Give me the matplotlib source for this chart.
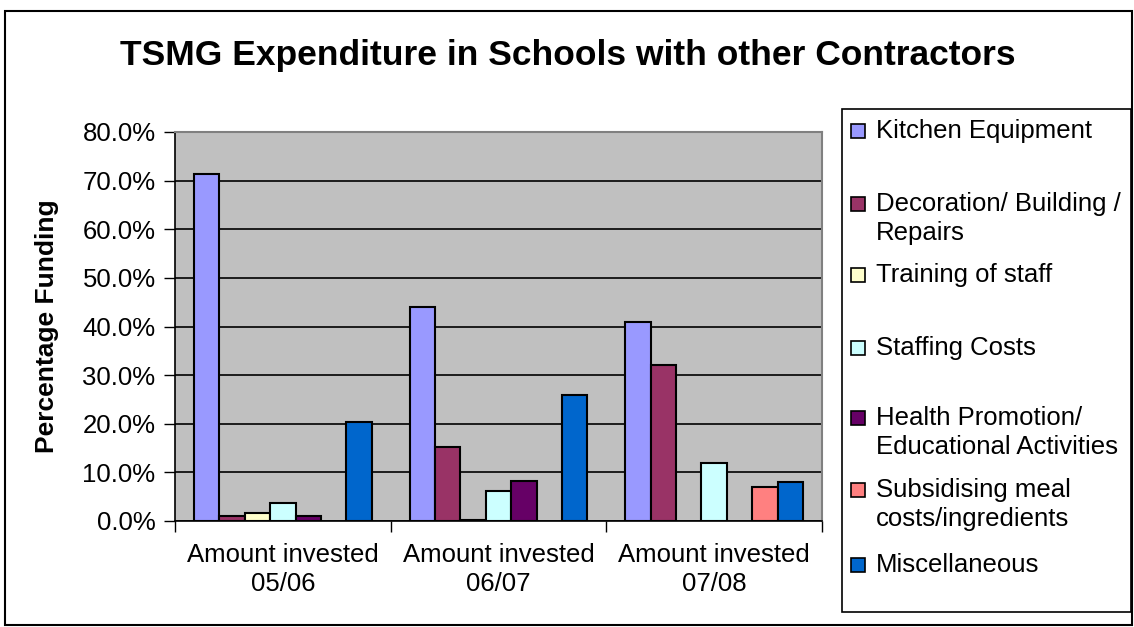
import numpy as np
import matplotlib.pyplot as plt
from matplotlib.patches import Rectangle

plt.rcParams["font.family"] = ["Liberation Sans", "DejaVu Sans"]
plt.rcParams["font.size"] = 18.5

# Data (percent of funding)
categories = ["Amount invested\n05/06", "Amount invested\n06/07", "Amount invested\n07/08"]
series = ["Kitchen Equipment", "Decoration/ Building /\nRepairs", "Training of staff",
          "Staffing Costs", "Health Promotion/\nEducational Activities",
          "Subsidising meal\ncosts/ingredients", "Miscellaneous"]
kitchen = [71.4, 44.1, 41.0]
decoration = [1.0, 15.2, 32.1]
training = [1.7, 0.3, np.nan]
staffing = [3.7, 6.1, 12.0]
health = [1.0, 8.2, np.nan]
subsidising = [np.nan, np.nan, 6.9]
misc = [20.3, 25.9, 8.0]
values = [kitchen, decoration, training, staffing, health, subsidising, misc]
colors = ["#9999FF", "#993366", "#FFFFCC", "#CCFFFF", "#660066", "#FF8080", "#0066CC"]

W, H = 1134, 627
fig = plt.figure(figsize=(W / 100, H / 100), dpi=100)
ax = fig.add_axes([175 / W, (H - 521) / H, (822 - 175) / W, (521 - 132) / H])
ax.set_facecolor("#C0C0C0")

x = np.arange(len(categories))
w = 1 / 8.5
for j, (vals, c) in enumerate(zip(values, colors)):
    ax.bar(x + (j - 3) * w, vals, w, color=c, edgecolor="black", linewidth=1.5, zorder=3)

ax.set_xlim(-0.5, 2.5)
ax.set_ylim(0, 80)
ax.set_yticks(np.arange(0, 81, 10))
ax.set_yticklabels([f"{v:.1f}%" for v in range(0, 81, 10)])
ax.yaxis.grid(True, color="black", linewidth=1.2, zorder=1)
ax.tick_params(axis="y", direction="out", length=8, width=1, pad=6)
ax.set_xticks(x)
ax.set_xticklabels(categories, linespacing=1.25)
ax.set_xticks([-0.5, 0.5, 1.5, 2.5], minor=True)
ax.tick_params(axis="x", which="major", length=0, pad=16)
ax.tick_params(axis="x", which="minor", direction="out", length=8, width=1)
for s in ["top", "right"]:
    ax.spines[s].set_color("#808080")
    ax.spines[s].set_linewidth(1.5)
for s in ["left", "bottom"]:
    ax.spines[s].set_linewidth(1.2)

fig.text(568 / W, (H - 55) / H, "TSMG Expenditure in Schools with other Contractors",
         ha="center", va="center", fontsize=25.5, fontweight="bold")
fig.text(47 / W, (H - 326) / H, "Percentage Funding", rotation=90,
         ha="center", va="center", fontsize=19, fontweight="bold")

# outer border and legend box
fig.patches.append(Rectangle((5 / W, 2 / H), 1127 / W, (H - 13) / H, transform=fig.transFigure,
                             fill=False, edgecolor="black", linewidth=1.5))
fig.patches.append(Rectangle((842 / W, (H - 612) / H), 289 / W, 503 / H, transform=fig.transFigure,
                             fill=False, edgecolor="black", linewidth=1.2))
entry_y = [131, 204, 275, 348, 418, 490, 565]
for label, c, yy in zip(series, colors, entry_y):
    fig.patches.append(Rectangle((851 / W, (H - yy - 7) / H), 14 / W, 14 / H,
                                 transform=fig.transFigure, facecolor=c,
                                 edgecolor="black", linewidth=1.2))
    fig.text(876 / W, (H - yy + 12) / H, label, ha="left", va="top",
             fontsize=18.5, linespacing=1.25)

fig.savefig("out.png", dpi=100)
